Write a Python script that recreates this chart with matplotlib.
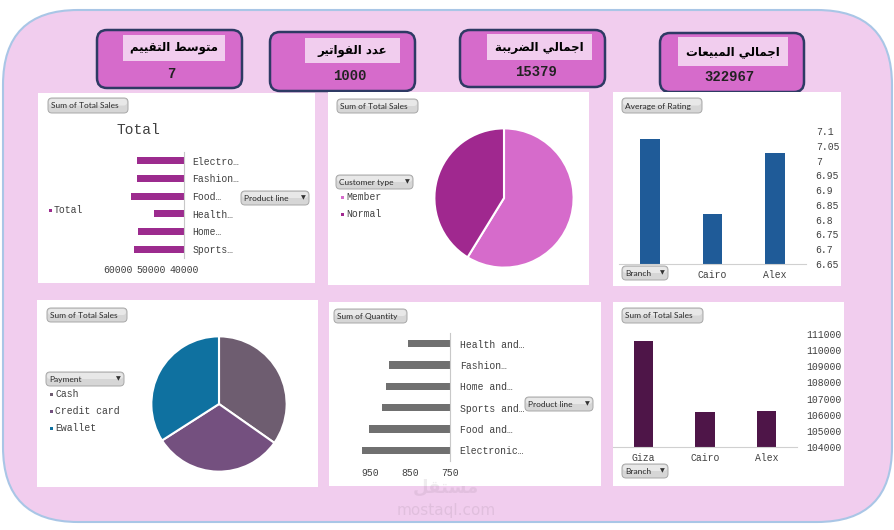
import matplotlib
matplotlib.use('Agg')
import matplotlib.pyplot as plt
from matplotlib.patches import FancyBboxPatch, Rectangle

W, H = 894, 530
MONO = 'Liberation Mono'
UI = 'Lato'
TXT = '#404040'
PINK = '#F1CDEE'

# KPI cards
kpi_titles = ['متوسط التقييم', 'عدد الفواتير', 'اجمالي الضريبة', 'اجمالي المبيعات']
kpi_values = ['7', '1000', '15379', '322967']

# sales by product line
product_lines = ['Electro…', 'Fashion…', 'Food…', 'Health…', 'Home…', 'Sports…']
product_sales = [54337.53, 54305.90, 56144.84, 49193.74, 53861.91, 55122.83]
sales_ticks = [60000, 50000, 40000]

# sales by customer type
customer_types = ['Member', 'Normal']
customer_sales = [189800, 133167]

# average rating by branch (first label sits under the Branch button)
branches = ['Giza', 'Cairo', 'Alex']
branch_rating = [7.073, 6.818, 7.027]
rating_ticks = [6.65, 6.7, 6.75, 6.8, 6.85, 6.9, 6.95, 7.0, 7.05, 7.1]
rating_labels = ['6.65', '6.7', '6.75', '6.8', '6.85', '6.9', '6.95', '7', '7.05', '7.1']

# sales by payment
payments = ['Cash', 'Credit card', 'Ewallet']
payment_sales = [112207, 100767, 109993]

# quantity by product line
qty_lines = ['Health and…', 'Fashion…', 'Home and…', 'Sports and…', 'Food and…', 'Electronic…']
qty_values = [854, 902, 911, 920, 952, 971]
qty_ticks = [950, 850, 750]

# sales by branch
branch_sales = [110568.7, 106197.7, 106200.4]
branch_sales_ticks = [104000, 105000, 106000, 107000, 108000, 109000, 110000, 111000]

# arabic presentation forms: isolated, final, initial, medial
FORMS = {
    'ا': ('\ufe8d', '\ufe8e', None, None),
    'ب': ('\ufe8f', '\ufe90', '\ufe91', '\ufe92'),
    'ة': ('\ufe93', '\ufe94', None, None),
    'ت': ('\ufe95', '\ufe96', '\ufe97', '\ufe98'),
    'ج': ('\ufe9d', '\ufe9e', '\ufe9f', '\ufea0'),
    'د': ('\ufea9', '\ufeaa', None, None),
    'ر': ('\ufead', '\ufeae', None, None),
    'س': ('\ufeb1', '\ufeb2', '\ufeb3', '\ufeb4'),
    'ض': ('\ufebd', '\ufebe', '\ufebf', '\ufec0'),
    'ط': ('\ufec1', '\ufec2', '\ufec3', '\ufec4'),
    'ع': ('\ufec9', '\ufeca', '\ufecb', '\ufecc'),
    'ف': ('\ufed1', '\ufed2', '\ufed3', '\ufed4'),
    'ق': ('\ufed5', '\ufed6', '\ufed7', '\ufed8'),
    'ل': ('\ufedd', '\ufede', '\ufedf', '\ufee0'),
    'م': ('\ufee1', '\ufee2', '\ufee3', '\ufee4'),
    'ي': ('\ufef1', '\ufef2', '\ufef3', '\ufef4'),
    'و': ('\ufeed', '\ufeee', None, None),
}


def shape_arabic(text):
    out = []
    for i, c in enumerate(text):
        if c not in FORMS:
            out.append(c)
            continue
        f = FORMS[c]
        prev = text[i - 1] if i > 0 else None
        nxt = text[i + 1] if i + 1 < len(text) else None
        join_prev = prev in FORMS and FORMS[prev][2] is not None
        join_next = f[2] is not None and nxt in FORMS
        if join_prev and join_next:
            out.append(f[3])
        elif join_prev:
            out.append(f[1])
        elif join_next:
            out.append(f[2])
        else:
            out.append(f[0])
    return ''.join(reversed(out))


def rect(x0, y0, x1, y1):
    return [x0 / W, 1 - y1 / H, (x1 - x0) / W, (y1 - y0) / H]


def rbox(ax, x0, y0, x1, y1, r, **kw):
    ax.add_patch(FancyBboxPatch((x0, y0), x1 - x0, y1 - y0,
                                boxstyle=f'round,pad=0,rounding_size={r}', **kw))


def button(ax, x0, y0, x1, y1, label, drop=False):
    rbox(ax, x0, y0, x1, y1, 4, fc='#D6D6D6', ec='#A8A8A8', lw=0.7)
    rbox(ax, x0 + 1, y0 + 1, x1 - 1, (y0 + y1) / 2, 3, fc='#E8E8E8', ec='none')
    ax.text(x0 + 3, (y0 + y1) / 2 + 0.5, label, fontsize=6, family=UI,
            color='#2A2A2A', va='center', ha='left')
    if drop:
        ax.text(x1 - 6, (y0 + y1) / 2, '▼', fontsize=4.5, color='#333333',
                va='center', ha='center')


def legend_item(ax, x, y, label, color):
    ax.add_patch(Rectangle((x, y - 1.5), 3, 3, fc=color, ec='none'))
    ax.text(x + 5, y, label, fontsize=7, family=MONO, color=TXT, va='center', ha='left')


def clean(ax):
    ax.set_facecolor('none')
    for s in ax.spines.values():
        s.set_visible(False)
    ax.tick_params(length=0, labelsize=7, labelcolor=TXT)
    for lab in ax.get_xticklabels() + ax.get_yticklabels():
        lab.set_family(MONO)


fig = plt.figure(figsize=(W / 100, H / 100), dpi=100)
fig.patch.set_facecolor('white')

bg = fig.add_axes([0, 0, 1, 1])
bg.set_xlim(0, W)
bg.set_ylim(H, 0)
bg.axis('off')

rbox(bg, 3, 10, 892, 522, 75, fc=PINK, ec='#A9C6E6', lw=1.5)

# KPI cards
cards = [(97, 30, 242, 88), (270, 32, 415, 91), (460, 30, 605, 87), (660, 33, 804, 92)]
inner = [(123, 35, 225, 61), (305, 38, 400, 63), (487, 34, 592, 60), (678, 37, 788, 66)]
value_y = [74, 76, 72, 77]
for (x0, y0, x1, y1), (a0, b0, a1, b1), t, v, vy in zip(cards, inner, kpi_titles, kpi_values, value_y):
    rbox(bg, x0, y0, x1, y1, 10, fc='#D66BCB', ec='#2E3A64', lw=1.8)
    bg.add_patch(Rectangle((a0, b0), a1 - a0, b1 - b0, fc=PINK, ec='none'))
    bg.text((a0 + a1) / 2, (b0 + b1) / 2, shape_arabic(t), fontsize=8.5,
            fontweight='bold', family='DejaVu Sans', ha='center', va='center', color='black')
    bg.text((a0 + a1) / 2 - 3, vy, v, fontsize=10, fontweight='bold', family=MONO,
            ha='center', va='center', color='#222222')

# white panels
panels = [(38, 93, 315, 283), (328, 92, 589, 285), (613, 92, 841, 286),
          (37, 300, 318, 487), (329, 302, 601, 486), (613, 302, 844, 486)]
for x0, y0, x1, y1 in panels:
    bg.add_patch(Rectangle((x0, y0), x1 - x0, y1 - y0, fc='white', ec='none'))

# watermark
bg.text(446, 488, shape_arabic('مستقل'), fontsize=13, fontweight='bold',
        family='DejaVu Sans', color='#7A6A78', alpha=0.12, ha='center', va='center')
bg.text(446, 511, 'mostaql.com', fontsize=11, family='DejaVu Sans',
        color='#7A6A78', alpha=0.14, ha='center', va='center')

# panel 1: sales by product line
ax1 = fig.add_axes(rect(100, 152, 184, 258))
ax1.barh(range(len(product_lines)), product_sales, height=0.4, color='#9C2B8E')
ax1.set_xlim(65450, 40000)
ax1.set_ylim(len(product_lines) - 0.5, -0.5)
ax1.yaxis.tick_right()
ax1.set_yticks(range(len(product_lines)), product_lines)
ax1.set_xticks(sales_ticks, [str(t) for t in sales_ticks])
clean(ax1)
ax1.spines['right'].set_visible(True)
ax1.spines['right'].set_color('#C8C8C8')
ax1.tick_params(axis='y', pad=6)
ax1.tick_params(axis='x', pad=5)

# panel 2: customer type pie
ax2 = fig.add_axes(rect(433, 127, 575, 269))
ax2.pie(customer_sales, colors=['#D66BCB', '#A0288F'], startangle=90, counterclock=False,
        wedgeprops=dict(edgecolor='white', linewidth=1.5))
ax2.set_xlim(-1.02, 1.02)
ax2.set_ylim(-1.02, 1.02)

# panel 3: average rating by branch
ax3 = fig.add_axes(rect(619, 131, 806, 264))
ax3.bar(range(len(branches)), branch_rating, width=0.32, color='#1F5B98')
ax3.set_xlim(-0.5, 2.5)
ax3.set_ylim(6.65, 7.1)
ax3.yaxis.tick_right()
ax3.set_yticks(rating_ticks, rating_labels)
ax3.set_xticks(range(1, len(branches)), branches[1:])
clean(ax3)
ax3.spines['bottom'].set_visible(True)
ax3.spines['bottom'].set_color('#D0D0D0')
ax3.tick_params(axis='y', pad=7)
ax3.tick_params(axis='x', pad=4)

# panel 4: payment pie
ax4 = fig.add_axes(rect(150, 335, 288, 473))
ax4.pie(payment_sales, colors=['#6E5D70', '#74507F', '#0F71A0'], startangle=90,
        counterclock=False, wedgeprops=dict(edgecolor='white', linewidth=1.5))
ax4.set_xlim(-1.02, 1.02)
ax4.set_ylim(-1.02, 1.02)

# panel 5: quantity by product line
ax5 = fig.add_axes(rect(354, 333, 450, 461))
ax5.barh(range(len(qty_lines)), qty_values, height=0.33, color='#707070')
ax5.set_xlim(990, 750)
ax5.set_ylim(len(qty_lines) - 0.5, -0.5)
ax5.yaxis.tick_right()
ax5.set_yticks(range(len(qty_lines)), qty_lines)
ax5.set_xticks(qty_ticks, [str(t) for t in qty_ticks])
clean(ax5)
ax5.spines['right'].set_visible(True)
ax5.spines['right'].set_color('#C8C8C8')
ax5.tick_params(axis='y', pad=7)
ax5.tick_params(axis='x', pad=5)

# panel 6: sales by branch
ax6 = fig.add_axes(rect(613, 334, 797, 447))
ax6.bar(range(len(branches)), branch_sales, width=0.31, color='#4E1548')
ax6.set_xlim(-0.5, 2.5)
ax6.set_ylim(104000, 111000)
ax6.yaxis.tick_right()
ax6.set_yticks(branch_sales_ticks, [str(t) for t in branch_sales_ticks])
ax6.set_xticks(range(len(branches)), branches)
clean(ax6)
ax6.spines['bottom'].set_visible(True)
ax6.spines['bottom'].set_color('#D0D0D0')
ax6.tick_params(axis='y', pad=7)
ax6.tick_params(axis='x', pad=4)

# overlay: field buttons, legends, titles
ov = fig.add_axes([0, 0, 1, 1])
ov.set_xlim(0, W)
ov.set_ylim(H, 0)
ov.axis('off')
ov.set_facecolor('none')

ov.text(138, 130, 'Total', fontsize=10.5, family=MONO, color=TXT, ha='center', va='center')
legend_item(ov, 49, 210, 'Total', '#9C2B8E')
button(ov, 48, 98, 128, 113, 'Sum of Total Sales')
button(ov, 241, 191, 309, 205, 'Product line', drop=True)

button(ov, 337, 99, 418, 113, 'Sum of Total Sales')
button(ov, 336, 175, 413, 189, 'Customer type', drop=True)
for name, y, c in zip(customer_types, [197, 214], ['#D66BCB', '#A0288F']):
    legend_item(ov, 341, y, name, c)

button(ov, 622, 98, 702, 113, 'Average of Rating')
button(ov, 622, 266, 668, 280, 'Branch', drop=True)

button(ov, 47, 308, 127, 322, 'Sum of Total Sales')
button(ov, 46, 372, 124, 386, 'Payment', drop=True)
for name, y, c in zip(payments, [394, 411, 428], ['#6E5D70', '#74507F', '#0F71A0']):
    legend_item(ov, 50, y, name, c)

button(ov, 334, 309, 407, 323, 'Sum of Quantity')
button(ov, 525, 397, 593, 411, 'Product line', drop=True)

button(ov, 622, 308, 703, 323, 'Sum of Total Sales')
button(ov, 622, 464, 668, 478, 'Branch', drop=True)

fig.savefig('out.png', dpi=100)
